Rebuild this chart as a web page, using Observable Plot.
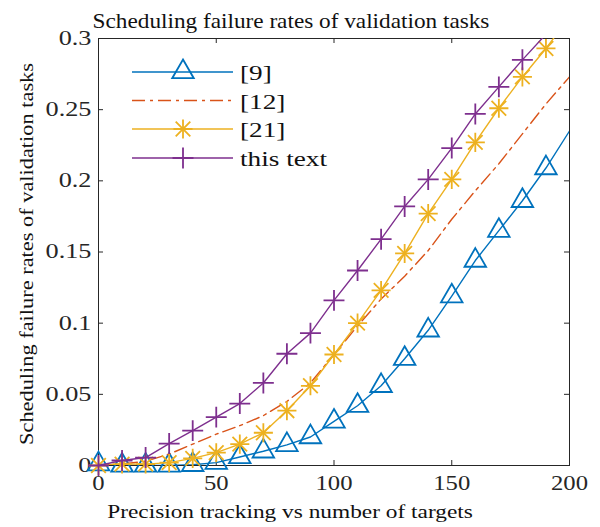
<!DOCTYPE html>
<html>
<head>
<meta charset="utf-8">
<script src="https://cdn.jsdelivr.net/npm/d3@7"></script>
<script src="https://cdn.jsdelivr.net/npm/@observablehq/plot@0.6"></script>
<style>
  body { margin: 0; background: #fff; }
  #chart { position: relative; width: 600px; height: 527px; }
</style>
</head>
<body>
<div id="chart"></div>
<script>
// ---- data ----
const targets  = [0, 10, 20, 30, 40, 50, 60, 70, 80, 90, 100, 110, 120, 130, 140, 150, 160, 170, 180, 190, 200];
const ref9     = [0.001, 0, 0, 0, 0.0005, 0.002, 0.006, 0.010, 0.0145, 0.020, 0.031, 0.042, 0.056, 0.075, 0.095, 0.119, 0.144, 0.165, 0.186, 0.209, 0.235];
const ref12    = [0, 0.001, 0.003, 0.008, 0.015, 0.022, 0.028, 0.035, 0.045, 0.058, 0.078, 0.098, 0.117, 0.133, 0.151, 0.173, 0.193, 0.212, 0.233, 0.254, 0.273];
const ref21    = [0, 0.001, 0.001, 0.002, 0.005, 0.009, 0.015, 0.023, 0.0385, 0.056, 0.078, 0.100, 0.123, 0.149, 0.177, 0.201, 0.227, 0.251, 0.273, 0.293, 0.315];
const thisText = [0, 0.0035, 0.0056, 0.0154, 0.0245, 0.034, 0.0435, 0.058, 0.0785, 0.093, 0.116, 0.137, 0.159, 0.182, 0.201, 0.223, 0.247, 0.266, 0.285, 0.303, 0.322];
const seriesNames = ["[9]", "[12]", "[21]", "this text"];
const xTicks = [0, 50, 100, 150, 200];
const yTicks = [0, 0.05, 0.1, 0.15, 0.2, 0.25, 0.3];
const yTickLabels = ["0", "0.05", "0.1", "0.15", "0.2", "0.25", "0.3"];
const titleText = "Scheduling failure rates of validation tasks";
const xLabelText = "Precision tracking vs number of targets";
const yLabelText = "Scheduling failure rates of validation tasks";

// ---- styling ----
const colors = ["#0072BD", "#D95319", "#EDB120", "#7E2F8E"];
const axisColor = "#262626";
const W = 600, H = 527;
const mL = 98, mR = 31, mT = 38, mB = 62;
const plotW = W - mL - mR, plotH = H - mT - mB;
const FONT = "'Liberation Serif', Tinos, 'Times New Roman', Times, 'DejaVu Serif', serif";

const allValues = [ref9, ref12, ref21, thisText];
const rows = allValues.map((vals) => targets.map((t, i) => ({x: t, y: vals[i]})));
const markerRows = rows.map((r) => r.filter((d) => d.x < 200 && d.y <= 0.3));
const yLabelMap = new Map(yTicks.map((t, i) => [t, yTickLabels[i]]));

const lineOpts = {x: "x", y: "y", strokeWidth: 1.4, clip: true};
const markW = 1.8;

const chart = Plot.plot({
  width: W, height: H,
  marginLeft: mL, marginRight: mR, marginTop: mT, marginBottom: mB,
  style: {fontFamily: FONT, fontSize: "20px", color: axisColor, background: "white"},
  x: {domain: [0, 200]},
  y: {domain: [0, 0.3]},
  marks: [
    Plot.frame({stroke: axisColor, strokeWidth: 1}),
    // inward ticks on all four sides
    Plot.tickX(xTicks, {x: (d) => d, insetTop: plotH - 5, stroke: axisColor}),
    Plot.tickX(xTicks, {x: (d) => d, insetBottom: plotH - 5, stroke: axisColor}),
    Plot.tickY(yTicks, {y: (d) => d, insetRight: plotW - 5, stroke: axisColor}),
    Plot.tickY(yTicks, {y: (d) => d, insetLeft: plotW - 5, stroke: axisColor}),
    Plot.axisX(xTicks, {tickSize: 0, tickPadding: 10, label: null, fontSize: 20}),
    Plot.axisY(yTicks, {tickSize: 0, tickPadding: 7, label: null, fontSize: 20, tickFormat: (d) => yLabelMap.get(d)}),
    // series
    Plot.line(rows[0], {...lineOpts, stroke: colors[0]}),
    Plot.dot(markerRows[0], {x: "x", y: "y", symbol: "triangle", r: 8, stroke: colors[0], fill: "none", strokeWidth: markW}),
    Plot.line(rows[1], {...lineOpts, stroke: colors[1], strokeDasharray: "13,5,3,5"}),
    Plot.line(rows[2], {...lineOpts, stroke: colors[2]}),
    Plot.dot(markerRows[2], {x: "x", y: "y", symbol: "plus", r: 6.2, stroke: colors[2], fill: "none", strokeWidth: markW}),
    Plot.dot(markerRows[2], {x: "x", y: "y", symbol: "times", r: 6.7, stroke: colors[2], fill: "none", strokeWidth: markW}),
    Plot.line(rows[3], {...lineOpts, stroke: colors[3]}),
    Plot.dot(markerRows[3], {x: "x", y: "y", symbol: "plus", r: 6.8, stroke: colors[3], fill: "none", strokeWidth: markW})
  ]
});
document.getElementById("chart").appendChild(chart);

const svg = d3.select(chart);

// horizontally stretch a text element about its anchor point
function stretch(el, s) {
  const x = +el.getAttribute("x") || 0, y = +el.getAttribute("y") || 0;
  const t = el.getAttribute("transform") || "";
  el.setAttribute("transform", `${t} translate(${x},${y}) scale(${s},1) translate(${-x},${-y})`);
}
function fitGroup(selector, refLabel, refWidth) {
  const texts = svg.selectAll(selector).nodes();
  const ref = texts.find((n) => n.textContent === refLabel);
  const s = ref ? refWidth / ref.getComputedTextLength() : 1;
  texts.forEach((n) => stretch(n, s));
}
fitGroup('g[aria-label="y-axis tick label"] text', "0.25", 46);
fitGroup('g[aria-label="x-axis tick label"] text', "100", 37);

function addText(str, {x, y, size, anchor = "middle", rotate = 0, width = null}) {
  const g = svg.append("g").attr("transform", `translate(${x},${y}) rotate(${rotate})`);
  const t = g.append("text")
    .attr("text-anchor", anchor)
    .attr("font-family", FONT)
    .attr("font-size", size)
    .attr("fill", "#111")
    .text(str);
  if (width) {
    const len = t.node().getComputedTextLength();
    t.attr("transform", `scale(${width / len},1)`);
  }
  return t;
}

addText(titleText, {x: 291, y: 28, size: 21, width: 397});
addText(xLabelText, {x: 290, y: 518, size: 19, width: 366});
addText(yLabelText, {x: 33, y: 254, size: 19, rotate: -90, width: 382});

// ---- legend ----
const legRows = [72, 100.5, 129, 158];
const lx0 = 132, lx1 = 233, lxm = 183, ltx = 240;
const leg = svg.append("g");
const symbolOf = (type, r) => d3.symbol(type, Math.PI * r * r)();
const legTexts = [];
seriesNames.forEach((name, k) => {
  const y = legRows[k];
  leg.append("line").attr("x1", lx0).attr("x2", lx1).attr("y1", y).attr("y2", y)
    .attr("stroke", colors[k]).attr("stroke-width", 1.4)
    .attr("stroke-dasharray", k === 1 ? "13,5,3,5" : null);
  const addSym = (type, r) => leg.append("path").attr("d", symbolOf(type, r))
    .attr("transform", `translate(${lxm},${y})`).attr("fill", "none")
    .attr("stroke", colors[k]).attr("stroke-width", markW);
  if (k === 0) addSym(d3.symbolTriangle, 8);
  if (k === 2) { addSym(d3.symbolPlus, 6.2); addSym(d3.symbolTimes, 6.7); }
  if (k === 3) addSym(d3.symbolPlus, 6.8);
  const g = leg.append("g").attr("transform", `translate(${ltx},${y + 8})`);
  legTexts.push(g.append("text").attr("text-anchor", "start")
    .attr("font-family", FONT).attr("font-size", 22).attr("fill", "#111")
    .text(name));
});
const legScale = 87 / legTexts[3].node().getComputedTextLength();
legTexts.forEach((t) => t.attr("transform", `scale(${legScale},1)`));
</script>
</body>
</html>
